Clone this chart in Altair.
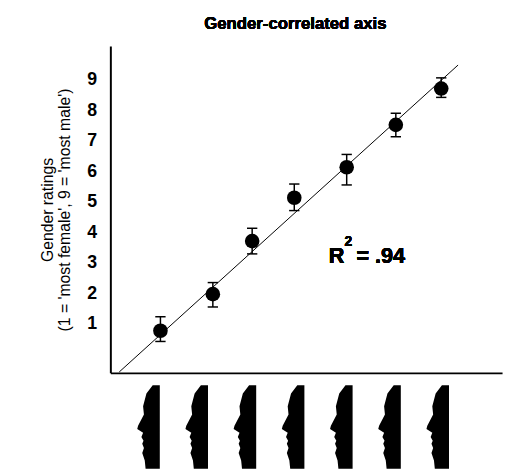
import altair as alt
import pandas as pd

# face index positions (x) and mean gender ratings
pos = [1.0, 2.12, 2.96, 3.86, 4.98, 6.03, 7.0]
rating = [0.77, 1.97, 3.71, 5.13, 6.13, 7.52, 8.71]
err_hi = [1.23, 2.35, 4.13, 5.58, 6.55, 7.90, 9.06]
err_lo = [0.42, 1.55, 3.29, 4.71, 5.55, 7.13, 8.42]

fit_x = [0.12, 7.36]
fit_y = [-0.58, 9.48]

face_x = [0.79, 1.82, 2.85, 3.88, 4.91, 5.94, 6.97]

df = pd.DataFrame({"pos": pos, "rating": rating, "hi": err_hi, "lo": err_lo})
fit = pd.DataFrame({"x": fit_x, "y": fit_y})
faces = pd.DataFrame({"x": face_x})

FONT = "Liberation Sans"
xs = alt.Scale(domain=[-0.07, 8.3], nice=False, zero=False)
ys = alt.Scale(domain=[-0.61, 10.1], nice=False, zero=False)

base = alt.Chart(df)

line = alt.Chart(fit).mark_line(color="black", strokeWidth=1).encode(
    x=alt.X("x:Q", scale=xs, axis=alt.Axis(labels=False, ticks=False, grid=False, title=None,
                                           domainColor="black", domainWidth=2)),
    y=alt.Y("y:Q", scale=ys, axis=alt.Axis(values=list(range(1, 10)), ticks=False, grid=False,
                                           domainColor="black", domainWidth=2,
                                           labelFont=FONT, labelFontSize=18, labelFontWeight="bold",
                                           labelColor="black", labelPadding=14,
                                           title=["Gender ratings", "(1 = 'most female', 9 = 'most male')"],
                                           titleFont=FONT, titleFontSize=16, titleFontWeight="normal",
                                           titleColor="black", titlePadding=14)),
)

rules = base.mark_rule(color="black", strokeWidth=1.5).encode(
    x="pos:Q", y="lo:Q", y2="hi:Q")
cap = "M-1,0L1,0"
caps_hi = base.mark_point(shape=cap, size=110, stroke="black", strokeWidth=1.5, filled=False,
                          opacity=1).encode(x="pos:Q", y="hi:Q")
caps_lo = base.mark_point(shape=cap, size=110, stroke="black", strokeWidth=1.5, filled=False,
                          opacity=1).encode(x="pos:Q", y="lo:Q")
dots = base.mark_circle(size=220, color="black", opacity=1).encode(x="pos:Q", y="rating:Q")

face_path = ("M0.22,-1 L0.22,1 L-0.12,1 L-0.14,0.8 L-0.2,0.62 L-0.16,0.5 L-0.2,0.4 "
             "L-0.17,0.33 L-0.22,0.24 L-0.18,0.14 L-0.32,0.05 L-0.3,-0.03 L-0.16,-0.3 "
             "L-0.18,-0.5 L-0.1,-0.8 L0.05,-1 Z")
face_marks = alt.Chart(faces).mark_point(shape=face_path, size=7200, filled=True, color="black",
                                         opacity=1, clip=False).encode(
    x=alt.X("x:Q", scale=xs), y=alt.value(387))

title = alt.Chart(faces).mark_text(text="Gender-correlated axis", font=FONT, fontSize=17,
                                   fontWeight="bold", color="black").encode(
    x=alt.value(188), y=alt.value(-22))
r_txt = alt.Chart(faces).mark_text(text="R", font=FONT, fontSize=22, fontWeight="bold",
                                   align="left", color="black").encode(
    x=alt.value(222), y=alt.value(213))
r_sup = alt.Chart(faces).mark_text(text="2", font=FONT, fontSize=14, fontWeight="bold",
                                   align="left", color="black").encode(
    x=alt.value(238), y=alt.value(199))
r_val = alt.Chart(faces).mark_text(text="= .94", font=FONT, fontSize=22, fontWeight="bold",
                                   align="left", color="black").encode(
    x=alt.value(250), y=alt.value(213))

chart = alt.layer(line, rules, caps_hi, caps_lo, dots, face_marks, title, r_txt, r_sup, r_val).properties(
    width=398, height=332, autosize="none",
    padding={"left": 104, "top": 35, "right": 4, "bottom": 99},
).configure(background="white").configure_view(stroke=None)

chart.save("out.html", embed_options={"renderer": "svg", "actions": False})
